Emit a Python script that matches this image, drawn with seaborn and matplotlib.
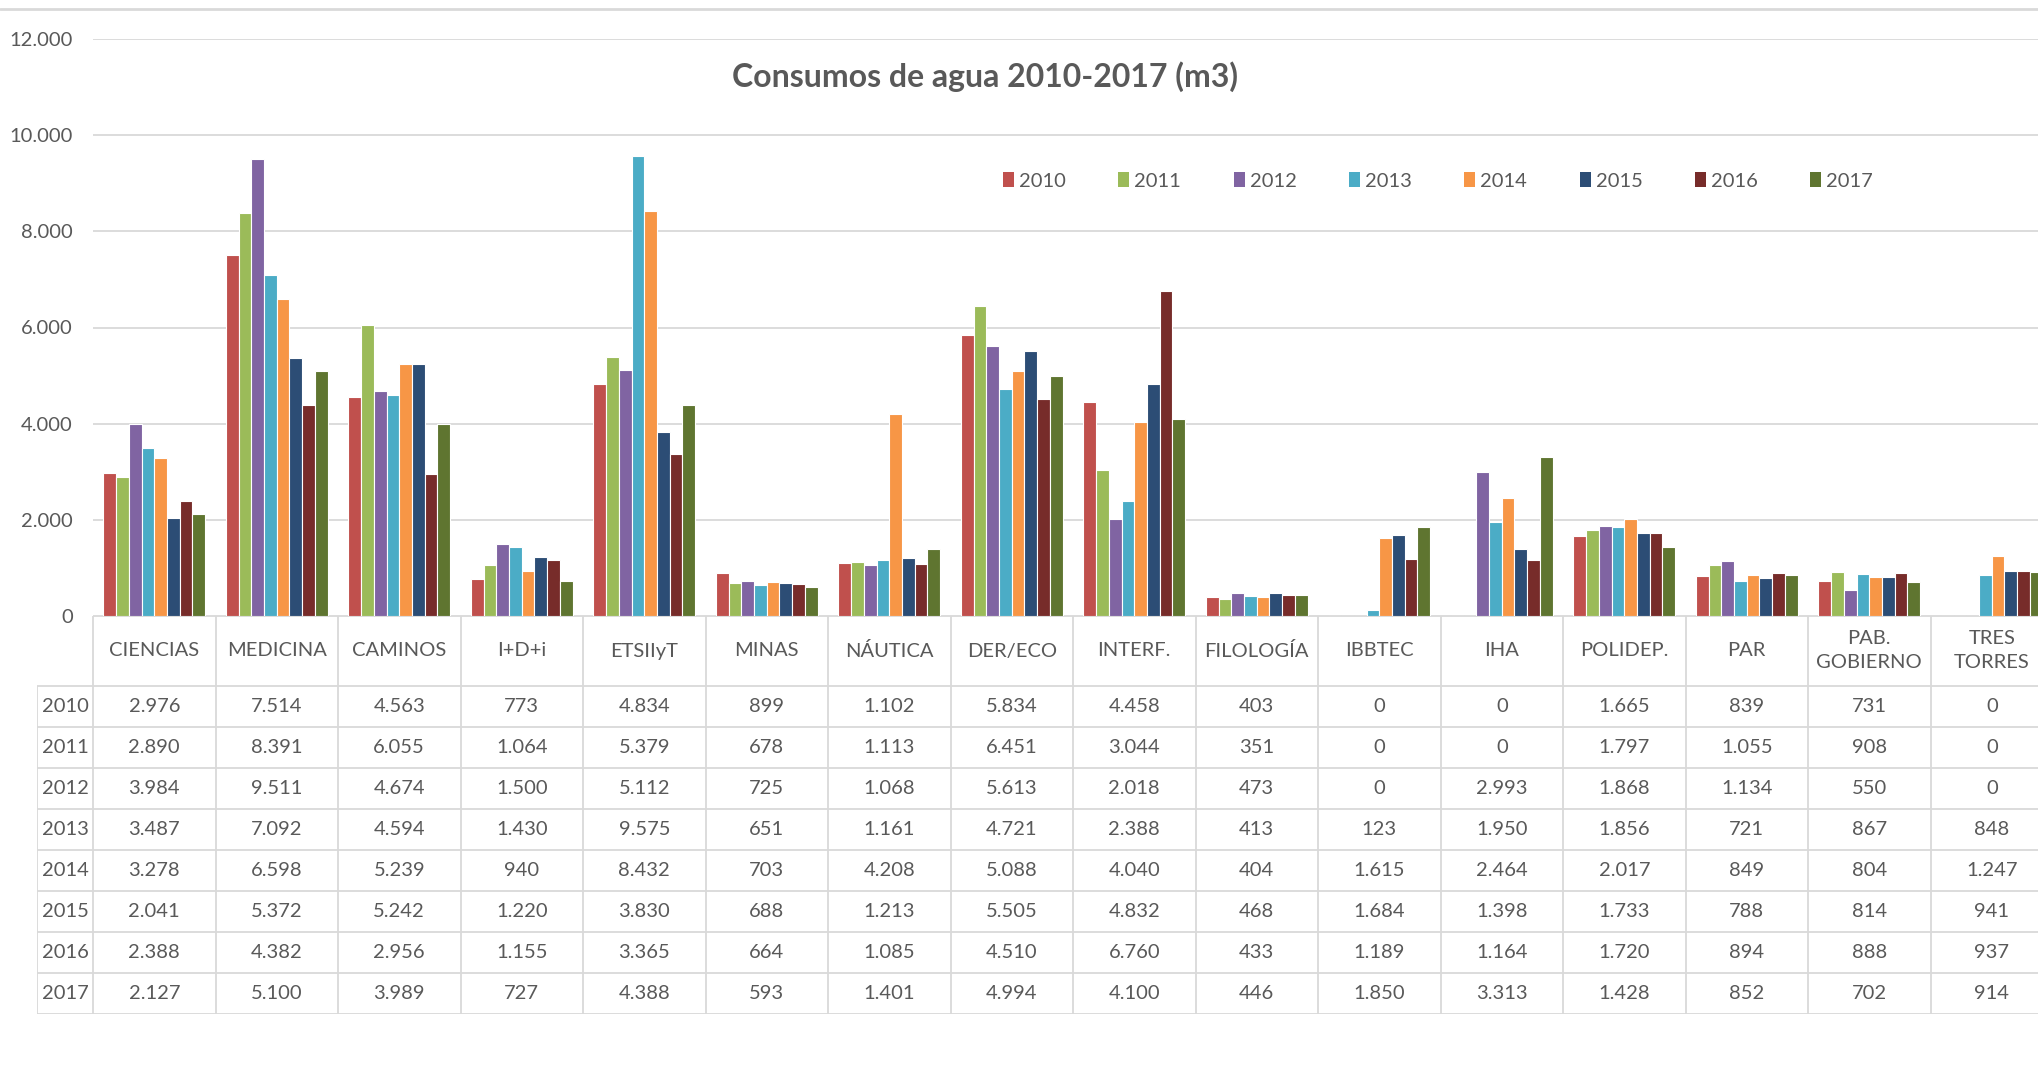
import numpy as np
import pandas as pd
import matplotlib
matplotlib.use('Agg')
import matplotlib.pyplot as plt
import seaborn as sns
from matplotlib.lines import Line2D
from matplotlib.patches import Patch
from matplotlib.ticker import FuncFormatter

# Datos: consumos de agua por centro (m3)
centros = ['CIENCIAS', 'MEDICINA', 'CAMINOS', 'I+D+i', 'ETSIIyT', 'MINAS', 'NÁUTICA',
           'DER/ECO', 'INTERF.', 'FILOLOGÍA', 'IBBTEC', 'IHA', 'POLIDEP.', 'PAR',
           'PAB.\nGOBIERNO', 'TRES\nTORRES']
anios = ['2010', '2011', '2012', '2013', '2014', '2015', '2016', '2017']
c2010 = [2976, 7514, 4563, 773, 4834, 899, 1102, 5834, 4458, 403, 0, 0, 1665, 839, 731, 0]
c2011 = [2890, 8391, 6055, 1064, 5379, 678, 1113, 6451, 3044, 351, 0, 0, 1797, 1055, 908, 0]
c2012 = [3984, 9511, 4674, 1500, 5112, 725, 1068, 5613, 2018, 473, 0, 2993, 1868, 1134, 550, 0]
c2013 = [3487, 7092, 4594, 1430, 9575, 651, 1161, 4721, 2388, 413, 123, 1950, 1856, 721, 867, 848]
c2014 = [3278, 6598, 5239, 940, 8432, 703, 4208, 5088, 4040, 404, 1615, 2464, 2017, 849, 804, 1247]
c2015 = [2041, 5372, 5242, 1220, 3830, 688, 1213, 5505, 4832, 468, 1684, 1398, 1733, 788, 814, 941]
c2016 = [2388, 4382, 2956, 1155, 3365, 664, 1085, 4510, 6760, 433, 1189, 1164, 1720, 894, 888, 937]
c2017 = [2127, 5100, 3989, 727, 4388, 593, 1401, 4994, 4100, 446, 1850, 3313, 1428, 852, 702, 914]
series = [c2010, c2011, c2012, c2013, c2014, c2015, c2016, c2017]
colores = ['#C0504D', '#9BBB59', '#8064A2', '#4BACC6', '#F79646', '#2C4D75', '#772C2A', '#5F7530']

titulo = 'Consumos de agua 2010-2017 (m3)'
yticks = [0, 2000, 4000, 6000, 8000, 10000, 12000]

sns.set_style('white')
plt.rcParams['font.family'] = ['Lato', 'DejaVu Sans']

GRIS_TXT = '#595959'
GRIS_LIN = '#D9D9D9'
W, H = 2038, 1091


def miles(v):
    return f"{int(v):,}".replace(',', '.')


df = pd.DataFrame({
    'centro': np.tile(centros, len(anios)),
    'anio': np.repeat(anios, len(centros)),
    'consumo': np.concatenate(series),
})

fig = plt.figure(figsize=(W / 100, H / 100), dpi=100)

# Grafico de barras
ax = fig.add_axes([93 / W, 1 - 616 / H, 16 * 122.5 / W, 577 / H])
sns.barplot(data=df, x='centro', y='consumo', hue='anio', order=centros, hue_order=anios,
            palette=colores, saturation=1, width=0.83, edgecolor='white', linewidth=0.8,
            legend=False, ax=ax)
ax.set_xlim(-0.5, 15.5)
ax.set_ylim(0, 12000)
ax.set_yticks(yticks)
ax.yaxis.set_major_formatter(FuncFormatter(lambda v, p: miles(v)))
ax.tick_params(axis='y', length=0, pad=14.5, labelsize=14.5, labelcolor=GRIS_TXT)
ax.tick_params(axis='x', length=0, labelbottom=False)
ax.set_xlabel('')
ax.set_ylabel('')
ax.grid(True, axis='y', color=GRIS_LIN, linewidth=1.3)
ax.set_axisbelow(True)
for s in ax.spines.values():
    s.set_visible(False)

# Tabla de datos
h_head = 70 / 41
x_left = -0.5 - 56 / 122.5
tab = fig.add_axes([37 / W, 1 - 1014 / H, (93 + 16 * 122.5 - 37) / W, 398 / H])
tab.set_xlim(x_left, 15.5)
tab.set_ylim(h_head + len(anios), 0)
tab.axis('off')
tab.hlines(0, -0.5, 15.5, color=GRIS_LIN, linewidth=1.3)
tab.hlines([h_head + i for i in range(len(anios) + 1)], x_left, 15.5, color=GRIS_LIN, linewidth=1.3)
tab.vlines([k - 0.5 for k in range(len(centros) + 1)], 0, h_head + len(anios),
           color=GRIS_LIN, linewidth=1.3)
tab.vlines(x_left, h_head, h_head + len(anios), color=GRIS_LIN, linewidth=1.3)

for k, c in enumerate(centros):
    tab.text(k, h_head / 2, c, ha='center', va='center', fontsize=14.5,
             color=GRIS_TXT, linespacing=1.5)
for i, (a, vals) in enumerate(zip(anios, series)):
    y = h_head + i + 0.5
    tab.text((x_left - 0.5) / 2, y, a, ha='center', va='center', fontsize=14.5, color=GRIS_TXT)
    for k, v in enumerate(vals):
        tab.text(k, y, miles(v), ha='center', va='center', fontsize=14.5, color=GRIS_TXT)

# Titulo, leyenda y linea superior
fig.text(985 / W, 1 - 87 / H, titulo, ha='center', va='baseline', fontsize=23,
         fontweight='bold', color=GRIS_TXT)
handles = [Patch(facecolor=c, edgecolor='none') for c in colores]
fig.legend(handles, anios, ncol=8, frameon=False, loc='center left',
           bbox_to_anchor=(1003 / W, 1 - 181 / H), fontsize=14.5, labelcolor=GRIS_TXT,
           handlelength=0.55, handleheight=0.7, handletextpad=0.25, columnspacing=2.6,
           borderpad=0, borderaxespad=0)
fig.add_artist(Line2D([0, 1], [1 - 9 / H] * 2, color=GRIS_LIN, linewidth=2))

fig.savefig('out.png', dpi=100)
